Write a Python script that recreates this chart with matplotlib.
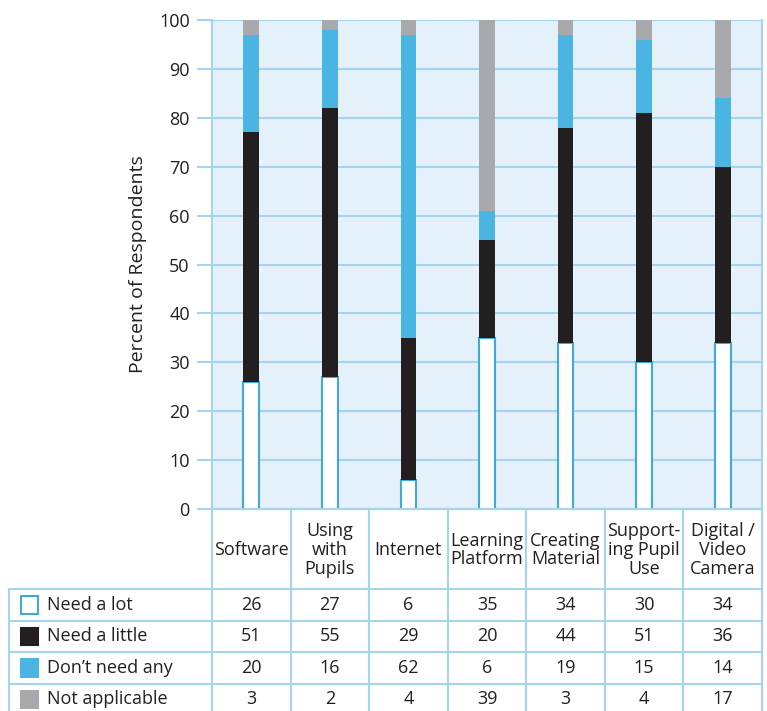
import matplotlib
matplotlib.use("Agg")
import matplotlib.pyplot as plt
import numpy as np
from matplotlib.patches import Rectangle

plt.rcParams['font.family'] = ['Open Sans', 'DejaVu Sans']

categories = ["Software", "Using\nwith\nPupils", "Internet", "Learning\nPlatform",
              "Creating\nMaterial", "Support-\ning Pupil\nUse", "Digital /\nVideo\nCamera"]
series_names = ["Need a lot", "Need a little", "Don\u2019t need any", "Not applicable"]
need_a_lot = [26, 27, 6, 35, 34, 30, 34]
need_a_little = [51, 55, 29, 20, 44, 51, 36]
dont_need_any = [20, 16, 62, 6, 19, 15, 14]
not_applicable = [3, 2, 4, 39, 3, 4, 17]
y_ticks = [0, 10, 20, 30, 40, 50, 60, 70, 80, 90, 100]

series = [need_a_lot, need_a_little, dont_need_any, not_applicable]
face_colors = ["white", "#231f20", "#4ab4e2", "#a7a9ac"]
edge_colors = ["#3fa9dc", "none", "none", "none"]
grid_c = "#a5d4ee"
txt_c = "#231f20"
bg_c = "#e5f1fa"
fs = 13

W, H = 767, 711
fig = plt.figure(figsize=(W / 100, H / 100), dpi=100)

# geometry in pixels
x0, x1 = 212, 762
ytop, ybot = 20, 509
ax = fig.add_axes([x0 / W, (H - ybot) / H, (x1 - x0) / W, (ybot - ytop) / H])
ax.set_facecolor(bg_c)
n = len(categories)
ax.set_xlim(0, n)
ax.set_ylim(0, 100)
ax.set_yticks(y_ticks)
ax.set_yticklabels([str(t) for t in y_ticks], fontsize=fs, color=txt_c)
ax.set_xticks([])
ax.tick_params(axis='y', length=11, width=1.5, color=grid_c, pad=5)
ax.yaxis.grid(True, color=grid_c, linewidth=1.5)
ax.set_axisbelow(True)
for s in ax.spines.values():
    s.set_color(grid_c)
    s.set_linewidth(1.5)
ax.spines['top'].set_visible(False)
ax.set_ylabel("Percent of Respondents", fontsize=14, color=txt_c, labelpad=9)

xpos = np.arange(n) + 0.5
bottom = np.zeros(n)
for vals, fc, ec in zip(series, face_colors, edge_colors):
    v = np.array(vals, dtype=float)
    ax.bar(xpos, v, bottom=bottom, width=0.2, color=fc,
           edgecolor=ec, linewidth=1.5 if ec != "none" else 0, zorder=3)
    bottom += v

# table overlay
tx = fig.add_axes([0, 0, 1, 1], zorder=5)
tx.set_xlim(0, W)
tx.set_ylim(H, 0)
tx.axis('off')
tx.patch.set_alpha(0)

colw = (x1 - x0) / n
xleft = 9
head_bot = 589
rowh = 31.5
rows_y = [head_bot + i * rowh for i in range(len(series) + 1)]
lw = 1.5

# horizontal lines
tx.plot([x0, x1], [ybot, ybot], color=grid_c, lw=lw)
for yy in rows_y:
    tx.plot([xleft, x1], [yy, yy], color=grid_c, lw=lw)
# vertical lines
tx.plot([xleft, xleft], [head_bot, H + 5], color=grid_c, lw=lw)
for i in range(n + 1):
    xx = x0 + i * colw
    tx.plot([xx, xx], [ybot, H + 5], color=grid_c, lw=lw)

# header labels
for i, c in enumerate(categories):
    tx.text(x0 + (i + 0.5) * colw, (ybot + head_bot) / 2 + 1, c, ha='center', va='center',
            fontsize=fs, color=txt_c, linespacing=1.05)

# rows
for r, (name, vals, fc, ec) in enumerate(zip(series_names, series, face_colors, edge_colors)):
    yc = rows_y[r] + rowh / 2
    tx.add_patch(Rectangle((20.5, yc - 8.5), 17.5, 17.5, facecolor=fc,
                           edgecolor=ec if ec != "none" else fc, lw=1.5))
    tx.text(47, yc, name, ha='left', va='center', fontsize=fs, color=txt_c)
    for i, v in enumerate(vals):
        tx.text(x0 + (i + 0.5) * colw, yc, str(v), ha='center', va='center',
                fontsize=fs, color=txt_c)

fig.savefig("out.png", dpi=100)
